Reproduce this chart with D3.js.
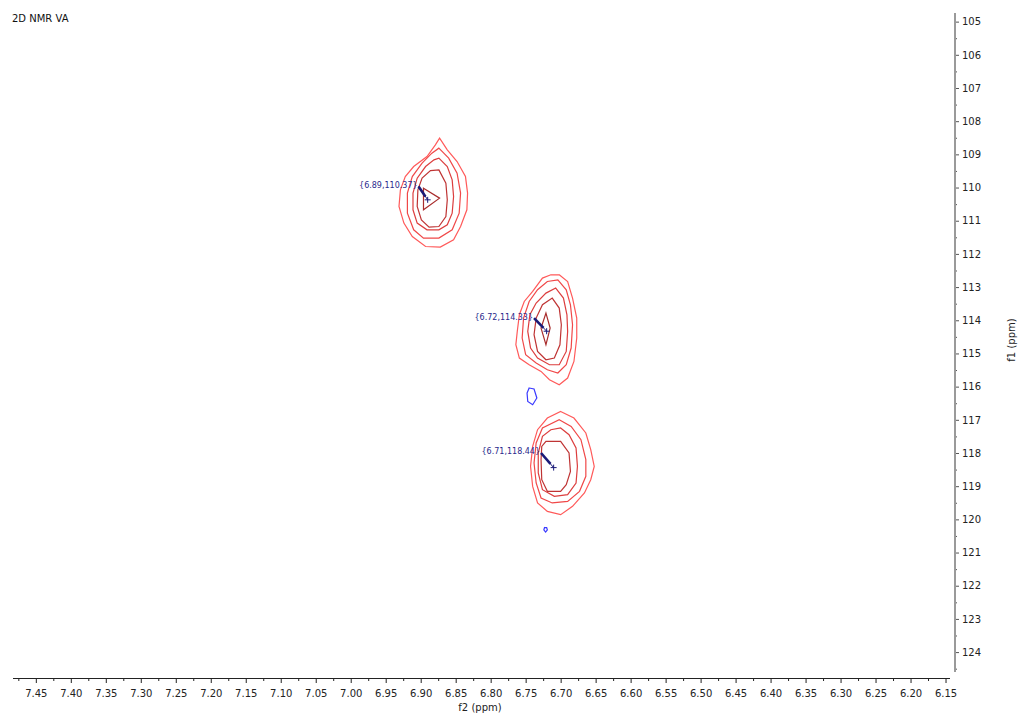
<!DOCTYPE html>
<html>
<head>
<meta charset="utf-8">
<script src="https://cdn.jsdelivr.net/npm/d3@7"></script>
<style>
  body { margin: 0; background: #fff; }
  svg { display: block; font-family: "DejaVu Sans", sans-serif; }
</style>
</head>
<body>
<div id="chart"></div>
<script>
// chart text
const chartTitle = "2D NMR VA";
const xLabel = "f2 (ppm)";
const yLabel = "f1 (ppm)";

// tick labels
const xTicks = [7.45, 7.40, 7.35, 7.30, 7.25, 7.20, 7.15, 7.10, 7.05, 7.00, 6.95, 6.90, 6.85,
  6.80, 6.75, 6.70, 6.65, 6.60, 6.55, 6.50, 6.45, 6.40, 6.35, 6.30, 6.25, 6.20, 6.15];
const yTicks = [105, 106, 107, 108, 109, 110, 111, 112, 113, 114, 115, 116, 117, 118, 119,
  120, 121, 122, 123, 124];

// positive contours [f2, f1], outer level first
const peak1Contours = [
  [[6.873,108.512],[6.862,108.864],[6.848,109.217],[6.836,109.669],[6.833,110.169],[6.834,110.671],
   [6.843,111.175],[6.853,111.575],[6.872,111.795],[6.893,111.777],[6.912,111.476],[6.924,111.072],
   [6.931,110.572],[6.929,110.069],[6.922,109.669],[6.910,109.367],[6.891,109.066],[6.879,108.714]],
  [[6.874,108.813],[6.860,109.114],[6.848,109.566],[6.843,110.169],[6.845,110.771],[6.855,111.274],
   [6.874,111.524],[6.896,111.524],[6.910,111.274],[6.919,110.771],[6.919,110.169],[6.912,109.669],
   [6.898,109.265],[6.884,108.964]],
  [[6.874,109.114],[6.862,109.367],[6.855,109.768],[6.853,110.271],[6.855,110.771],[6.862,111.123],
   [6.874,111.274],[6.891,111.274],[6.905,111.072],[6.911,110.671],[6.911,110.169],[6.905,109.717],
   [6.893,109.367],[6.881,109.166]],
  [[6.874,109.467],[6.864,109.867],[6.862,110.370],[6.864,110.873],[6.874,111.175],[6.888,111.193],
   [6.899,110.973],[6.905,110.572],[6.904,110.069],[6.898,109.717],[6.886,109.488]],
  [[6.896,110.018],[6.873,110.319],[6.896,110.671]]
];

const peak2Contours = [
  [[6.702,112.629],[6.690,112.831],[6.683,113.331],[6.677,113.934],[6.677,114.536],[6.681,115.241],
   [6.690,115.741],[6.702,115.943],[6.716,115.792],[6.728,115.542],[6.745,115.340],[6.759,115.138],
   [6.764,114.738],[6.762,114.337],[6.759,113.834],[6.752,113.434],[6.740,113.132],[6.726,112.729],
   [6.714,112.629]],
  [[6.704,112.780],[6.692,113.081],[6.686,113.533],[6.683,114.135],[6.685,114.837],[6.692,115.340],
   [6.704,115.590],[6.719,115.491],[6.735,115.289],[6.750,115.039],[6.755,114.536],[6.753,113.934],
   [6.745,113.434],[6.733,113.081],[6.719,112.831]],
  [[6.707,113.030],[6.696,113.331],[6.691,113.834],[6.690,114.337],[6.692,114.939],[6.702,115.340],
   [6.716,115.340],[6.733,115.138],[6.743,114.837],[6.747,114.337],[6.744,113.834],[6.735,113.482],
   [6.721,113.181]],
  [[6.712,113.331],[6.702,113.632],[6.699,114.135],[6.701,114.738],[6.709,115.138],[6.721,115.190],
   [6.733,114.939],[6.738,114.436],[6.735,113.934],[6.726,113.533]],
  [[6.721,113.783],[6.715,114.235],[6.721,114.738],[6.728,114.235]]
];

const peak3Contours = [
  [[6.700,116.747],[6.681,116.946],[6.664,117.397],[6.657,117.900],[6.652,118.403],[6.657,118.804],
   [6.666,119.204],[6.683,119.608],[6.700,119.858],[6.719,119.759],[6.733,119.506],[6.740,119.006],
   [6.743,118.403],[6.740,117.801],[6.733,117.298],[6.719,116.946]],
  [[6.702,116.997],[6.685,117.198],[6.671,117.599],[6.664,118.201],[6.664,118.704],[6.673,119.156],
   [6.690,119.457],[6.712,119.506],[6.728,119.356],[6.735,118.904],[6.738,118.301],[6.735,117.699],
   [6.726,117.247]],
  [[6.700,117.247],[6.688,117.449],[6.678,117.849],[6.676,118.403],[6.678,118.904],[6.690,119.256],
   [6.709,119.306],[6.726,119.105],[6.732,118.602],[6.732,118.000],[6.726,117.500],[6.714,117.298]],
  [[6.721,117.650],[6.700,117.650],[6.688,118.000],[6.686,118.554],[6.692,118.955],[6.700,119.156],
   [6.719,119.156],[6.727,118.804],[6.728,118.201],[6.727,117.801]]
];

// negative contours
const negativeContours = [
  [[6.745,116.042],[6.738,116.072],[6.734,116.343],[6.740,116.545],[6.747,116.446],[6.748,116.193]],
  [[6.723,120.245],[6.720,120.250],[6.719,120.320],[6.7215,120.385],[6.724,120.320]]
];

// peak picks: label, peak position, label anchor
const peakLabels = ["{6.89,110.37}", "{6.72,114.33}", "{6.71,118.44}"];
const peakPositions = [[6.89, 110.37], [6.72, 114.33], [6.71, 118.44]];
const labelAnchors = [[6.903, 109.97], [6.738, 113.934], [6.728, 118.00]];

// ---------------------------------------------------------------
const W = 1020, H = 713;
const levelColors = ["#ff5a5a", "#f04848", "#dc3e3e", "#bf3434", "#a82c2c"];

const svg = d3.select("#chart").append("svg")
  .attr("width", W)
  .attr("height", H);

const xScale = d3.scaleLinear().domain([7.4826, 6.1436]).range([13, 950]);
const yScale = d3.scaleLinear().domain([104.74, 124.6]).range([13, 672]);

// title
svg.append("text")
  .attr("x", 12)
  .attr("y", 22)
  .attr("font-size", "10px")
  .attr("fill", "#111")
  .text(chartTitle);

// contours
const contourLine = d3.line()
  .x(d => xScale(d[0]))
  .y(d => yScale(d[1]))
  .curve(d3.curveLinearClosed);

const plot = svg.append("g");
for (const peak of [peak1Contours, peak2Contours, peak3Contours]) {
  plot.selectAll(null)
    .data(peak)
    .enter().append("path")
    .attr("d", contourLine)
    .attr("fill", "none")
    .attr("stroke", (d, i) => levelColors[i])
    .attr("stroke-width", 1.2);
}

plot.selectAll(".neg")
  .data(negativeContours)
  .enter().append("path")
  .attr("class", "neg")
  .attr("d", contourLine)
  .attr("fill", "none")
  .attr("stroke", "#3a3aff")
  .attr("stroke-width", 1.2);

// peak annotations
const picks = svg.selectAll(".pick")
  .data(peakLabels)
  .enter().append("g")
  .attr("class", "pick");

picks.append("line")
  .attr("x1", (d, i) => xScale(labelAnchors[i][0]))
  .attr("y1", (d, i) => yScale(labelAnchors[i][1]))
  .attr("x2", (d, i) => xScale(peakPositions[i][0]))
  .attr("y2", (d, i) => yScale(peakPositions[i][1]))
  .attr("stroke", "#1a1a78")
  .attr("stroke-width", 1);

picks.append("line")
  .attr("x1", (d, i) => xScale(labelAnchors[i][0]))
  .attr("y1", (d, i) => yScale(labelAnchors[i][1]))
  .attr("x2", (d, i) => xScale(labelAnchors[i][0]) + 0.75 * (xScale(peakPositions[i][0]) - xScale(labelAnchors[i][0])))
  .attr("y2", (d, i) => yScale(labelAnchors[i][1]) + 0.75 * (yScale(peakPositions[i][1]) - yScale(labelAnchors[i][1])))
  .attr("stroke", "#1a1a78")
  .attr("stroke-width", 2.6);

picks.append("path")
  .attr("d", (d, i) => {
    const px = xScale(peakPositions[i][0]), py = yScale(peakPositions[i][1]);
    return `M${px - 3},${py}H${px + 3}M${px},${py - 3}V${py + 3}`;
  })
  .attr("stroke", "#1a1a78")
  .attr("stroke-width", 1);

picks.append("text")
  .attr("x", (d, i) => xScale(labelAnchors[i][0]) - 1)
  .attr("y", (d, i) => yScale(labelAnchors[i][1]) - 1)
  .attr("text-anchor", "end")
  .attr("dominant-baseline", "middle")
  .attr("font-size", "8px")
  .attr("fill", "#2a2a8c")
  .text(d => d);

// x axis
const xAxisG = svg.append("g").attr("transform", "translate(0,678)");
xAxisG.call(d3.axisBottom(xScale).tickValues(xTicks).tickSize(5).tickFormat(d3.format(".2f")));
xAxisG.select(".domain").remove();
xAxisG.selectAll(".tick line").attr("stroke", "#222");
xAxisG.selectAll("text")
  .attr("y", 12)
  .attr("font-family", "DejaVu Sans")
  .attr("font-size", "10px")
  .attr("fill", "#222");

svg.append("g").attr("transform", "translate(0,678)")
  .call(d3.axisBottom(xScale).tickValues(xTicks.map(v => v + 0.025)).tickSize(3).tickFormat(""))
  .call(g => g.select(".domain").remove())
  .call(g => g.selectAll(".tick line").attr("stroke", "#222"));

svg.append("line")
  .attr("x1", xScale.range()[0])
  .attr("x2", xScale.range()[1])
  .attr("y1", 678.5)
  .attr("y2", 678.5)
  .attr("stroke", "#222");

// y axis
const yAxisG = svg.append("g").attr("transform", "translate(955,0)");
yAxisG.call(d3.axisRight(yScale).tickValues(yTicks).tickSize(4).tickPadding(3));
yAxisG.select(".domain").remove();
yAxisG.selectAll(".tick line").attr("stroke", "#555");
yAxisG.selectAll("text")
  .attr("font-family", "DejaVu Sans")
  .attr("font-size", "10px")
  .attr("fill", "#222");

svg.append("g").attr("transform", "translate(955,0)")
  .call(d3.axisRight(yScale).tickValues(yTicks.map(v => v + 0.5)).tickSize(2).tickFormat(""))
  .call(g => g.select(".domain").remove())
  .call(g => g.selectAll(".tick line").attr("stroke", "#555"));

svg.append("line")
  .attr("x1", 955)
  .attr("x2", 955)
  .attr("y1", yScale.range()[0])
  .attr("y2", yScale.range()[1])
  .attr("stroke", "#9a9a9a")
  .attr("stroke-width", 2);

// axis titles
svg.append("text")
  .attr("x", 480)
  .attr("y", 711)
  .attr("text-anchor", "middle")
  .attr("font-size", "10px")
  .attr("fill", "#222")
  .text(xLabel);

svg.append("text")
  .attr("transform", "translate(1012,340) rotate(-90)")
  .attr("text-anchor", "middle")
  .attr("dominant-baseline", "middle")
  .attr("font-size", "10px")
  .attr("fill", "#222")
  .text(yLabel);
</script>
</body>
</html>
